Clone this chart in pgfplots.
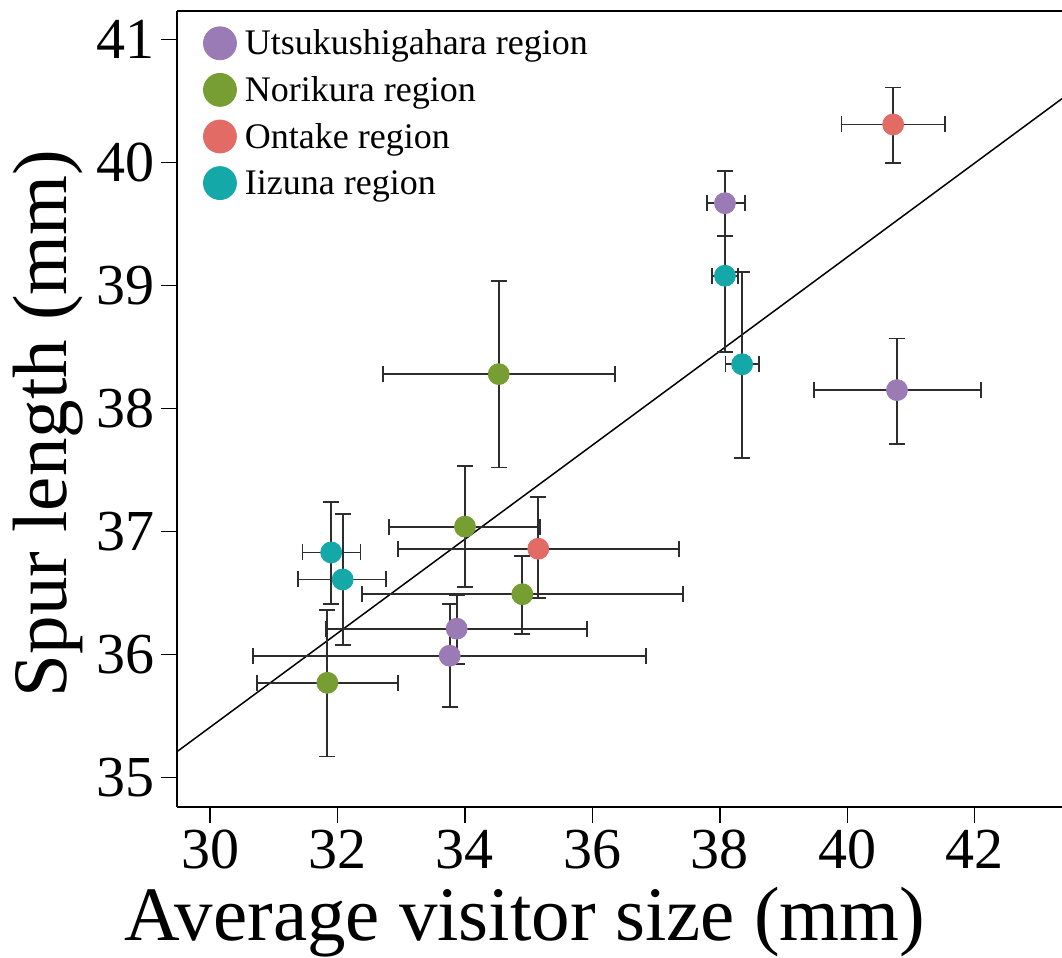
\documentclass[border=0pt]{standalone}
\usepackage{fontspec}
\setmainfont{Liberation Serif}
\usepackage{pgfplots}
\usepackage{pgfplotstable}
\pgfplotsset{compat=1.18}

\definecolor{cpurple}{RGB}{155,123,181}
\definecolor{cgreen}{RGB}{118,158,50}
\definecolor{cred}{RGB}{226,107,102}
\definecolor{ccyan}{RGB}{20,168,168}
\definecolor{errcol}{RGB}{45,45,45}

% x, y, and asymmetric error bars (plus / minus) for each region
\pgfplotstableread{
x     y     exp   exm   eyp   eym
38.08 39.67 0.31  0.28  0.26  0.27
40.78 38.15 1.32  1.30  0.42  0.44
33.87 36.21 2.04  2.06  0.27  0.29
33.76 35.99 3.08  3.09  0.42  0.42
}\utsu
\pgfplotstableread{
x     y     exp   exm   eyp   eym
34.53 38.28 1.83  1.82  0.76  0.76
34.00 37.04 1.18  1.19  0.49  0.49
34.90 36.49 2.52  2.52  0.31  0.32
31.84 35.77 1.11  1.11  0.59  0.60
}\nori
\pgfplotstableread{
x     y     exp   exm   eyp   eym
40.72 40.31 0.81  0.81  0.30  0.31
35.15 36.86 2.21  2.20  0.42  0.40
}\onta
\pgfplotstableread{
x     y     exp   exm   eyp   eym
38.08 39.08 0.20  0.20  0.32  0.62
38.35 38.36 0.27  0.26  0.75  0.76
31.90 36.83 0.46  0.45  0.41  0.42
32.08 36.61 0.68  0.70  0.53  0.53
}\iizu

\pgfplotsset{
  errbars/.style={
    forget plot, draw=none, mark=none,
    error bars/.cd,
      x dir=both, x explicit, y dir=both, y explicit,
      error mark=|,
      error mark options={mark size=4pt, line width=0.9pt, draw=errcol},
      error bar style={draw=errcol, line width=0.9pt},
  },
  dots/.style={only marks, mark=*, mark size=5.25pt, color=#1, mark options={draw=none, fill=#1}},
}

\begin{document}
\begin{tikzpicture}
\begin{axis}[
  name=ax,
  scale only axis, width=442.5pt, height=398pt,
  xmin=29.48, xmax=43.37, ymin=34.76, ymax=41.233,
  axis x line*=box, axis y line*=left,
  axis line style={line width=1pt, black},
  xtick={30,32,...,42}, ytick={35,36,...,41},
  xtick pos=bottom, ytick pos=left,
  tick align=outside, major tick length=8pt,
  tick style={line width=0.75pt, black},
  ticklabel style={font=\fontsize{29}{29}\selectfont, inner sep=0pt},
  /pgf/number format/assume math mode=true,
  xticklabel shift=3.5pt, yticklabel shift=3pt,
  xlabel={Average visitor size (mm)},
  ylabel={Spur length (mm)},
  label style={font=\fontsize{38.5}{38.5}\selectfont, inner sep=0pt},
  xlabel style={at={(axis description cs:0.3932,-0.1671)}, anchor=base},
  ylabel style={at={(axis description cs:-0.1243,0.4818)}, anchor=base},
  legend cell align=left,
  legend image code/.code={\draw[#1, mark size=8.25pt] plot coordinates {(0pt,0pt)};},
  legend style={
    at={(axis description cs:0.0299,0.9887)}, anchor=north west,
    draw=none, fill=none, inner sep=0pt, outer sep=0pt,
    row sep=0pt, column sep=4.25pt,
    font=\fontsize{18}{18}\selectfont,
    nodes={inner sep=0pt, text height=17.5pt, text depth=5.8pt},
  },
]
% fitted regression line
\addplot[black, line width=0.75pt, forget plot] coordinates {(29.48,35.21) (43.37,40.52)};

% error bars first, so every dot sits on top of them
\addplot[errbars] table[x=x, y=y, x error plus=exp, x error minus=exm, y error plus=eyp, y error minus=eym] {\utsu};
\addplot[errbars] table[x=x, y=y, x error plus=exp, x error minus=exm, y error plus=eyp, y error minus=eym] {\nori};
\addplot[errbars] table[x=x, y=y, x error plus=exp, x error minus=exm, y error plus=eyp, y error minus=eym] {\onta};
\addplot[errbars] table[x=x, y=y, x error plus=exp, x error minus=exm, y error plus=eyp, y error minus=eym] {\iizu};

\addplot[dots=cpurple] table[x=x, y=y] {\utsu};
\addlegendentry{Utsukushigahara region}
\addplot[dots=cgreen] table[x=x, y=y] {\nori};
\addlegendentry{Norikura region}
\addplot[dots=cred] table[x=x, y=y] {\onta};
\addlegendentry{Ontake region}
\addplot[dots=ccyan] table[x=x, y=y] {\iizu};
\addlegendentry{Iizuna region}
\end{axis}
\pgfresetboundingbox
\path[use as bounding box] ([xshift=-88.5pt, yshift=-75.5pt]ax.south west) rectangle ([yshift=5.5pt]ax.north east);
\end{tikzpicture}
\end{document}
